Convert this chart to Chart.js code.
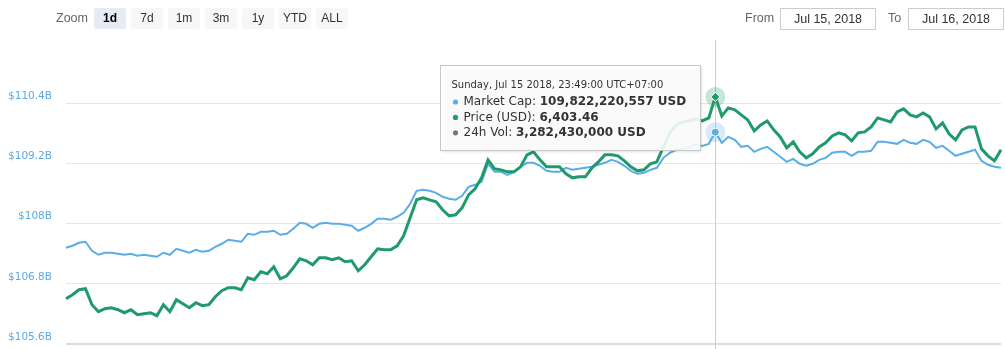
<!DOCTYPE html>
<html>
<head>
<meta charset="utf-8">
<script src="https://cdn.jsdelivr.net/npm/chart.js@4.4.1/dist/chart.umd.min.js"></script>
<style>
  html, body { margin: 0; padding: 0; background: #fff; }
  #wrap { position: relative; width: 1005px; height: 349px; overflow: hidden; }
  #chart { position: absolute; left: 0; top: 0; }
  .txt { position: absolute; font-family: "Liberation Sans", Arial, sans-serif; font-size: 12.5px; color: #666; line-height: 21px; top: 8px; }
  .btn { position: absolute; top: 8px; width: 32px; height: 21px; line-height: 21px; text-align: center;
         background: #f7f7f7; border-radius: 2px; color: #333; font-family: "Liberation Sans", Arial, sans-serif; font-size: 12px; }
  .btn.on { background: #e6ebf5; font-weight: bold; color: #000; }
  .range { position: absolute; top: 8px; width: 94px; height: 20px; line-height: 20px; border: 1px solid #ccc;
           font-family: "Liberation Sans", Arial, sans-serif; font-size: 12.5px; color: #333; text-align: center; box-sizing: content-box; }
</style>
</head>
<body>
<div id="wrap">
  <canvas id="chart" width="1005" height="349"></canvas>
  <div class="txt" style="left:56px">Zoom</div>
  <div id="buttons"></div>
  <div class="txt" style="left:745px">From</div>
  <div class="range" style="left:780px">Jul 15, 2018</div>
  <div class="txt" style="left:888px">To</div>
  <div class="range" style="left:908px">Jul 16, 2018</div>
</div>
<script>
// range selector buttons
const zoomButtons = ['1d', '7d', '1m', '3m', '1y', 'YTD', 'ALL'];
// y axis ticks, billions of USD
const capTicks = [105.6, 106.8, 108, 109.2, 110.4];

// 10 minute samples, starting Jul 15 07:09 (UTC+07:00)
const startMinute = 7 * 60 + 9;
const stepMinutes = 10;

// market cap, billions of USD
const marketCap = [
  107.518, 107.558, 107.618, 107.638, 107.459, 107.379, 107.419, 107.419, 107.399, 107.379,
  107.399, 107.359, 107.379, 107.359, 107.339, 107.419, 107.379, 107.498, 107.459, 107.419,
  107.478, 107.439, 107.459, 107.538, 107.598, 107.678, 107.658, 107.638, 107.797, 107.777,
  107.837, 107.837, 107.857, 107.777, 107.797, 107.897, 108.016, 107.996, 107.917, 107.996,
  108.016, 107.996, 107.996, 107.976, 107.957, 107.857, 107.917, 107.996, 108.096, 108.096,
  108.076, 108.136, 108.216, 108.395, 108.654, 108.674, 108.654, 108.614, 108.534, 108.494,
  108.475, 108.554, 108.733, 108.773, 108.833, 109.192, 109.032, 109.032, 108.973, 109.032,
  109.132, 109.212, 109.212, 109.152, 109.052, 109.032, 109.032, 109.112, 109.072, 109.092,
  109.112, 109.132, 109.172, 109.212, 109.271, 109.231, 109.152, 109.052, 108.992, 109.012,
  109.072, 109.112, 109.311, 109.411, 109.471, 109.490, 109.510, 109.590, 109.550, 109.590,
  109.822220557, 109.610, 109.729, 109.670, 109.530, 109.550, 109.431, 109.490, 109.530, 109.431,
  109.331, 109.231, 109.291, 109.192, 109.152, 109.192, 109.271, 109.311, 109.411, 109.431,
  109.431, 109.351, 109.431, 109.431, 109.451, 109.630, 109.630, 109.610, 109.590, 109.670,
  109.610, 109.590, 109.670, 109.630, 109.510, 109.550, 109.451, 109.351, 109.391, 109.431,
  109.471, 109.251, 109.172, 109.132, 109.112
];

// BTC price, USD
const priceUsd = [
  6269.29, 6271.95, 6275.27, 6275.93, 6265.31, 6260.66, 6262.65, 6263.31, 6261.99, 6259.99,
  6261.99, 6258.66, 6259.33, 6259.99, 6258.00, 6265.31, 6260.66, 6268.63, 6265.97, 6263.31,
  6266.63, 6264.64, 6265.31, 6270.62, 6274.61, 6276.60, 6276.60, 6275.27, 6283.24, 6281.91,
  6287.22, 6285.90, 6290.55, 6282.58, 6284.57, 6289.88, 6295.86, 6294.53, 6291.87, 6296.52,
  6296.52, 6295.20, 6296.52, 6293.87, 6294.53, 6287.89, 6291.87, 6297.19, 6302.50, 6301.84,
  6301.84, 6304.49, 6311.14, 6323.09, 6335.05, 6336.38, 6335.05, 6333.72, 6328.41, 6324.42,
  6325.08, 6329.73, 6338.37, 6342.35, 6349.66, 6361.62, 6355.64, 6354.97, 6353.64, 6353.64,
  6356.97, 6364.94, 6366.93, 6361.62, 6356.97, 6356.97, 6356.97, 6352.32, 6349.66, 6350.32,
  6350.32, 6356.30, 6360.29, 6364.94, 6364.94, 6364.27, 6360.95, 6356.97, 6354.31, 6354.97,
  6358.96, 6360.29, 6370.25, 6379.55, 6384.86, 6386.85, 6387.52, 6388.85, 6387.52, 6389.51,
  6403.46, 6390.84, 6396.15, 6394.83, 6391.50, 6388.18, 6380.88, 6384.86, 6387.52, 6381.54,
  6376.89, 6369.59, 6373.57, 6366.93, 6362.94, 6365.60, 6370.25, 6372.91, 6377.56, 6379.55,
  6378.22, 6374.24, 6379.55, 6380.21, 6383.53, 6389.51, 6388.18, 6386.85, 6393.50, 6395.49,
  6391.50, 6390.18, 6392.83, 6390.18, 6382.21, 6386.19, 6378.88, 6374.90, 6381.54, 6383.53,
  6383.53, 6368.92, 6364.27, 6360.95, 6368.26
];

// highlighted sample and its 24h volume
const hoverIndex = 100;
const hoverVolume = 3282430000;

const pad2 = n => String(n).padStart(2, '0');
const timeLabels = marketCap.map((_, i) => {
  const m = (startMinute + i * stepMinutes) % 1440;
  return pad2(Math.floor(m / 60)) + ':' + pad2(m % 60);
});

const capColor = '#5aade6';
const priceColor = '#1f9a6c';
const volColor = '#777777';

const btnHost = document.getElementById('buttons');
zoomButtons.forEach((b, i) => {
  const el = document.createElement('div');
  el.className = 'btn' + (i === 0 ? ' on' : '');
  el.style.left = (94 + i * 37) + 'px';
  el.textContent = b;
  btnHost.appendChild(el);
});

const fmtInt = v => Math.round(v).toLocaleString('en-US');

const hoverPlugin = {
  id: 'hoverPlugin',
  beforeDatasetsDraw(chart) {
    const { ctx, chartArea } = chart;
    const x = Math.round(chart.scales.x.getPixelForValue(hoverIndex)) + 0.5;
    ctx.save();
    ctx.strokeStyle = '#cccccc';
    ctx.lineWidth = 1;
    ctx.beginPath();
    ctx.moveTo(x, chartArea.top - 3);
    ctx.lineTo(x, chart.height);
    ctx.stroke();
    ctx.restore();
  },
  afterDatasetsDraw(chart) {
    const { ctx } = chart;
    const x = chart.scales.x.getPixelForValue(hoverIndex);
    const yCap = chart.scales.y.getPixelForValue(marketCap[hoverIndex]);
    const yPrice = chart.scales.price.getPixelForValue(priceUsd[hoverIndex]);
    ctx.save();

    // halos
    ctx.fillStyle = 'rgba(90,173,230,0.25)';
    ctx.beginPath(); ctx.arc(x, yCap, 10, 0, Math.PI * 2); ctx.fill();
    ctx.fillStyle = 'rgba(31,154,108,0.25)';
    ctx.beginPath(); ctx.arc(x, yPrice, 10, 0, Math.PI * 2); ctx.fill();

    // markers
    ctx.strokeStyle = '#fff';
    ctx.lineWidth = 1;
    ctx.fillStyle = capColor;
    ctx.beginPath(); ctx.arc(x, yCap, 4, 0, Math.PI * 2); ctx.fill(); ctx.stroke();
    ctx.fillStyle = priceColor;
    ctx.beginPath();
    ctx.moveTo(x, yPrice - 4.5); ctx.lineTo(x + 4.5, yPrice);
    ctx.lineTo(x, yPrice + 4.5); ctx.lineTo(x - 4.5, yPrice);
    ctx.closePath(); ctx.fill(); ctx.stroke();

    // tooltip box
    const bx = Math.round(x) - 274.5, by = 65.5, bw = 260, bh = 85;
    ctx.shadowColor = 'rgba(0,0,0,0.18)';
    ctx.shadowBlur = 3;
    ctx.shadowOffsetX = 1;
    ctx.shadowOffsetY = 1;
    ctx.fillStyle = 'rgba(255,255,255,0.88)';
    ctx.fillRect(bx, by, bw, bh);
    ctx.shadowColor = 'transparent';
    ctx.strokeStyle = '#c8c8c8';
    ctx.strokeRect(bx, by, bw, bh);

    ctx.textBaseline = 'middle';
    ctx.fillStyle = '#333';
    ctx.font = '10px "DejaVu Sans"';
    ctx.fillText('Sunday, Jul 15 2018, ' + timeLabels[hoverIndex] + ':00 UTC+07:00', bx + 11, by + 20);

    const rows = [
      [capColor, 'Market Cap: ', fmtInt(marketCap[hoverIndex] * 1e9) + ' USD'],
      [priceColor, 'Price (USD): ', priceUsd[hoverIndex].toLocaleString('en-US', { minimumFractionDigits: 2, maximumFractionDigits: 2 })],
      [volColor, '24h Vol: ', fmtInt(hoverVolume) + ' USD']
    ];
    rows.forEach((r, i) => {
      const ty = by + 36.5 + i * 15.4;
      ctx.fillStyle = r[0];
      ctx.beginPath(); ctx.arc(bx + 15, ty, 2.6, 0, Math.PI * 2); ctx.fill();
      ctx.fillStyle = '#333';
      ctx.font = '12px "DejaVu Sans"';
      ctx.fillText(r[1], bx + 23, ty);
      const w = ctx.measureText(r[1]).width;
      ctx.font = 'bold 12px "DejaVu Sans"';
      ctx.fillText(r[2], bx + 23 + w, ty);
    });
    ctx.restore();
  }
};

new Chart(document.getElementById('chart'), {
  type: 'line',
  data: {
    labels: timeLabels,
    datasets: [
      { label: 'Market Cap', data: marketCap, yAxisID: 'y', borderColor: capColor, borderWidth: 2,
        pointRadius: 0, tension: 0, order: 2 },
      { label: 'Price (USD)', data: priceUsd, yAxisID: 'price', borderColor: priceColor, borderWidth: 3,
        pointRadius: 0, tension: 0, order: 1 }
    ]
  },
  options: {
    responsive: false,
    animation: false,
    events: [],
    layout: { padding: { top: 43, right: 4, bottom: 5, left: 0 } },
    plugins: { legend: { display: false }, tooltip: { enabled: false } },
    scales: {
      x: { display: false },
      y: {
        position: 'left',
        min: 105.6,
        max: 111.6,
        afterBuildTicks: s => { s.ticks = capTicks.map(v => ({ value: v })); },
        afterFit: s => { s.width = 66; s.paddingTop = 0; s.paddingBottom = 0; },
        grid: { color: ctx => ctx.index === 0 ? '#dcdcdc' : '#e6e6e6', lineWidth: ctx => ctx.index === 0 ? 2 : 1, drawTicks: false },
        border: { display: false },
        ticks: {
          color: '#5aa9e6',
          font: { family: 'DejaVu Sans', size: 10.5 },
          padding: 14,
          labelOffset: -7,
          callback: v => '$' + v + 'B'
        }
      },
      price: { display: false, min: 6239.2, max: 6439.3 }
    }
  },
  plugins: [hoverPlugin]
});
</script>
</body>
</html>
